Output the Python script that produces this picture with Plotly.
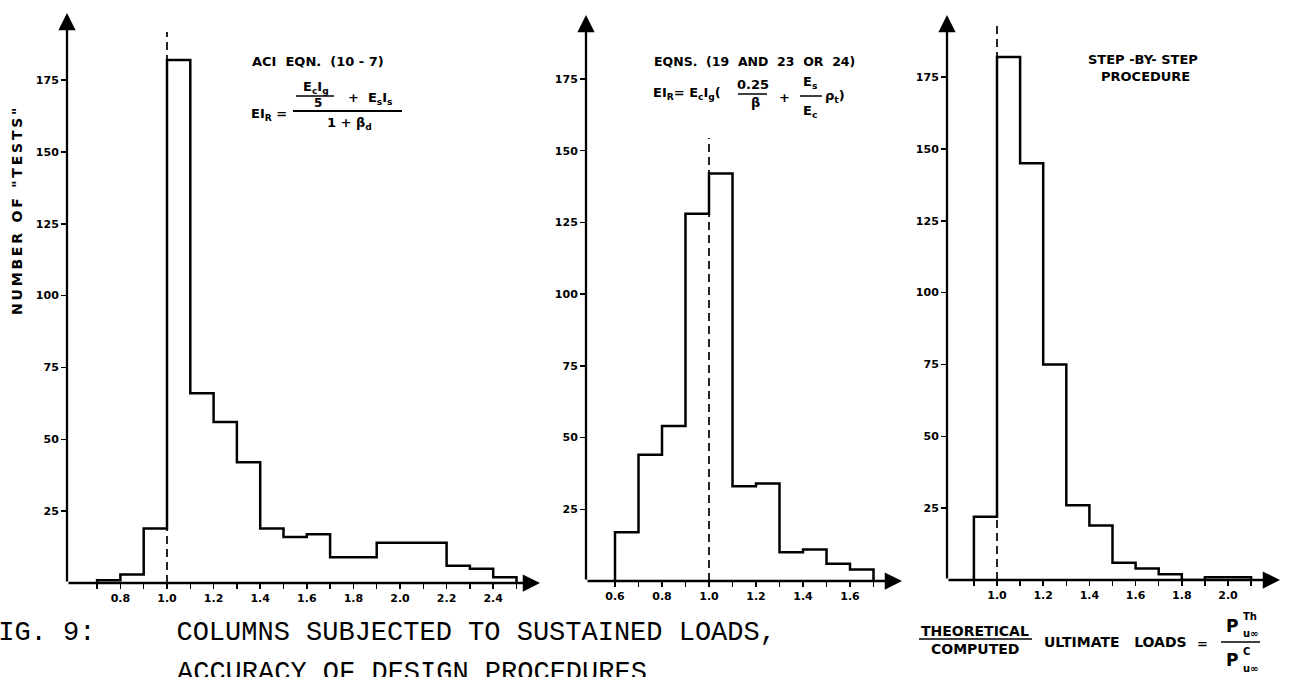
import plotly.graph_objects as go

W, H = 1291, 677

# ---------------- data ----------------
bin_width = 0.1

aci_start = 0.7
aci_counts = [1, 3, 19, 182, 66, 56, 42, 19, 16, 17, 9, 9, 14, 14, 14, 6, 5, 2]

eqn_start = 0.6
eqn_counts = [17, 44, 54, 128, 142, 33, 34, 10, 11, 6, 4]

step_start = 0.9
step_counts = [22, 182, 145, 75, 26, 19, 6, 4, 2, 0, 1, 1]

aci_ticks = [0.7, 0.8, 0.9, 1.0, 1.1, 1.2, 1.3, 1.4, 1.5, 1.6, 1.7, 1.8, 1.9, 2.0, 2.1, 2.2, 2.3, 2.4, 2.5]
aci_labels = ["", "0.8", "", "1.0", "", "1.2", "", "1.4", "", "1.6", "", "1.8", "", "2.0", "", "2.2", "", "2.4", ""]

eqn_ticks = [0.6, 0.7, 0.8, 0.9, 1.0, 1.1, 1.2, 1.3, 1.4, 1.5, 1.6, 1.7]
eqn_labels = ["0.6", "", "0.8", "", "1.0", "", "1.2", "", "1.4", "", "1.6", ""]

step_ticks = [0.9, 1.0, 1.1, 1.2, 1.3, 1.4, 1.5, 1.6, 1.7, 1.8, 1.9, 2.0, 2.1]
step_labels = ["", "1.0", "", "1.2", "", "1.4", "", "1.6", "", "1.8", "", "2.0", ""]

y_ticks = [25, 50, 75, 100, 125, 150, 175]
y_labels = ["25", "50", "75", "100", "125", "150", "175"]

reference_ratio = 1.0

# ---------------- layout helpers (pixel geometry) ----------------
def fx(px):
    return px / W

def fy(py):
    return 1 - py / H

panels = [
    dict(ax=67, base=583, top=13, one=167, ppx=233, ppy=2.874, right=540, dash_top=32,
         start=aci_start, counts=aci_counts, ticks=aci_ticks, labels=aci_labels),
    dict(ax=586, base=581, top=15, one=709, ppx=235, ppy=2.869, right=902, dash_top=138,
         start=eqn_start, counts=eqn_counts, ticks=eqn_ticks, labels=eqn_labels),
    dict(ax=947, base=580, top=15, one=997, ppx=231, ppy=2.874, right=1280, dash_top=23,
         start=step_start, counts=step_counts, ticks=step_ticks, labels=step_labels),
]

fig = go.Figure()
annotations = []
shapes = []

tickfont = dict(family="DejaVu Sans", size=11, color="black", weight="bold")

for i, p in enumerate(panels):
    k = "" if i == 0 else str(i + 1)
    xa, ya = "x" + k, "y" + k
    xmin = reference_ratio - (p["one"] - p["ax"]) / p["ppx"]
    xmax = reference_ratio + (p["right"] - p["one"]) / p["ppx"]
    ymax = (p["base"] - p["top"]) / p["ppy"]
    dash_val = (p["base"] - p["dash_top"]) / p["ppy"]

    n = len(p["counts"])
    xs = [p["start"]] + [round(p["start"] + j * bin_width, 3) for j in range(n + 1)]
    ys = [0] + list(p["counts"]) + [0]
    fig.add_trace(go.Scatter(x=xs, y=ys, mode="lines", line=dict(color="black", width=2.5, shape="hv"),
                             xaxis=xa, yaxis=ya, showlegend=False, hoverinfo="skip"))
    fig.add_trace(go.Scatter(x=[reference_ratio, reference_ratio], y=[0, dash_val], mode="lines",
                             line=dict(color="black", width=1.7, dash="8px,5px"),
                             xaxis=xa, yaxis=ya, showlegend=False, hoverinfo="skip"))

    axis_common = dict(showgrid=False, zeroline=False, showline=False, ticks="outside",
                       ticklen=5, tickwidth=1.5, tickcolor="black", tickfont=tickfont)
    fig.update_layout(**{
        "xaxis" + k: dict(domain=[fx(p["ax"]), fx(p["right"])], range=[xmin, xmax], anchor=ya,
                          tickmode="array", tickvals=p["ticks"], ticktext=p["labels"], **axis_common),
        "yaxis" + k: dict(domain=[fy(p["base"]), fy(p["top"])], range=[0, ymax], anchor=xa,
                          tickmode="array", tickvals=y_ticks, ticktext=y_labels, **axis_common),
    })
    annotations.append(dict(x=xmax, y=0, ax=xmin, ay=0, xref=xa, yref=ya, axref=xa, ayref=ya,
                            text="", showarrow=True, arrowhead=2, arrowsize=1.5, arrowwidth=2.3,
                            arrowcolor="black", standoff=0, startstandoff=0))
    annotations.append(dict(x=xmin, y=ymax, ax=xmin, ay=0, xref=xa, yref=ya, axref=xa, ayref=ya,
                            text="", showarrow=True, arrowhead=2, arrowsize=1.5, arrowwidth=2.3,
                            arrowcolor="black", standoff=0, startstandoff=0))


def txt(px, py, s, size=12, anchor="left", family="DejaVu Sans", weight="bold", angle=0):
    annotations.append(dict(x=fx(px), y=fy(py), xref="paper", yref="paper", text=s, showarrow=False,
                            xanchor=anchor, yanchor="middle", textangle=angle,
                            font=dict(family=family, size=size, color="black", weight=weight)))


def hline(x0, x1, py, w=1.8):
    shapes.append(dict(type="line", xref="paper", yref="paper", x0=fx(x0), x1=fx(x1), y0=fy(py), y1=fy(py),
                       line=dict(color="black", width=w)))


ts = "\u2009"
# y-axis title
title_y = 'NUMBER OF "TESTS"'
txt(17, 212, ts.join(title_y), size=14, anchor="center", angle=-90)

# panel 1 formula
txt(250, 62, "ACI  EQN.  (10 - 7)", size=13)
txt(249, 114, "EI<sub>R</sub> =", size=13)
hline(293, 402, 111)
txt(316, 87, "E<sub>c</sub>I<sub>g</sub>", size=13, anchor="center")
hline(296, 334, 96, w=1.5)
txt(318, 103, "5", size=12, anchor="center")
txt(346, 98, "+  E<sub>s</sub>I<sub>s</sub>", size=13)
txt(350, 124, "1 + β<sub>d</sub>", size=13, anchor="center")

# panel 2 formula
txt(652, 62, "EQNS.  (19  AND  23  OR  24)", size=12.5)
txt(651, 94, "EI<sub>R</sub>= E<sub>c</sub>I<sub>g</sub>(", size=13)
txt(753, 84, "0.25", size=13, anchor="center")
hline(738, 767, 94, w=1.5)
txt(755, 102, "β", size=13, anchor="center")
txt(785, 97, "+", size=13, anchor="center")
txt(810, 82, "E<sub>s</sub>", size=13, anchor="center")
hline(800, 822, 96, w=1.5)
txt(810, 111, "E<sub>c</sub>", size=13, anchor="center")
txt(823, 96, "ρ<sub>t</sub>)", size=13)

# panel 3 title
txt(1143, 60, "STEP -BY- STEP", size=13, anchor="center")
txt(1145, 77, "PROCEDURE", size=13, anchor="center")

# x-axis description
txt(975, 631, "THEORETICAL", size=14, anchor="center")
hline(919, 1032, 639, w=1.6)
txt(975, 649, "COMPUTED", size=14, anchor="center")
txt(1042, 642, "ULTIMATE   LOADS", size=14)
txt(1202, 643, "=", size=13, anchor="center")
txt(1232, 626, "P", size=17, anchor="center")
txt(1241, 616, "Th", size=10)
txt(1241, 633, "u∞", size=10)
hline(1221, 1260, 642, w=1.6)
txt(1232, 660, "P", size=17, anchor="center")
txt(1241, 651, "C", size=10)
txt(1241, 668, "u∞", size=10)

# caption
nb = "\u00a0"
txt(-20, 633, "FIG." + nb + "9:" + nb * 5 + "COLUMNS SUBJECTED TO SUSTAINED LOADS,".replace(" ", nb),
    size=27, family="Liberation Mono", weight="normal")
txt(175, 673, "ACCURACY OF DESIGN PROCEDURES".replace(" ", nb), size=27, family="Liberation Mono", weight="normal")

fig.update_layout(width=W, height=H, margin=dict(l=0, r=0, t=0, b=0), paper_bgcolor="white",
                  plot_bgcolor="white", annotations=annotations, shapes=shapes, showlegend=False)

fig.write_html("out.html", config={"displayModeBar": False, "staticPlot": True},
               post_script="document.body.style.margin='0';document.body.style.overflow='hidden';")
